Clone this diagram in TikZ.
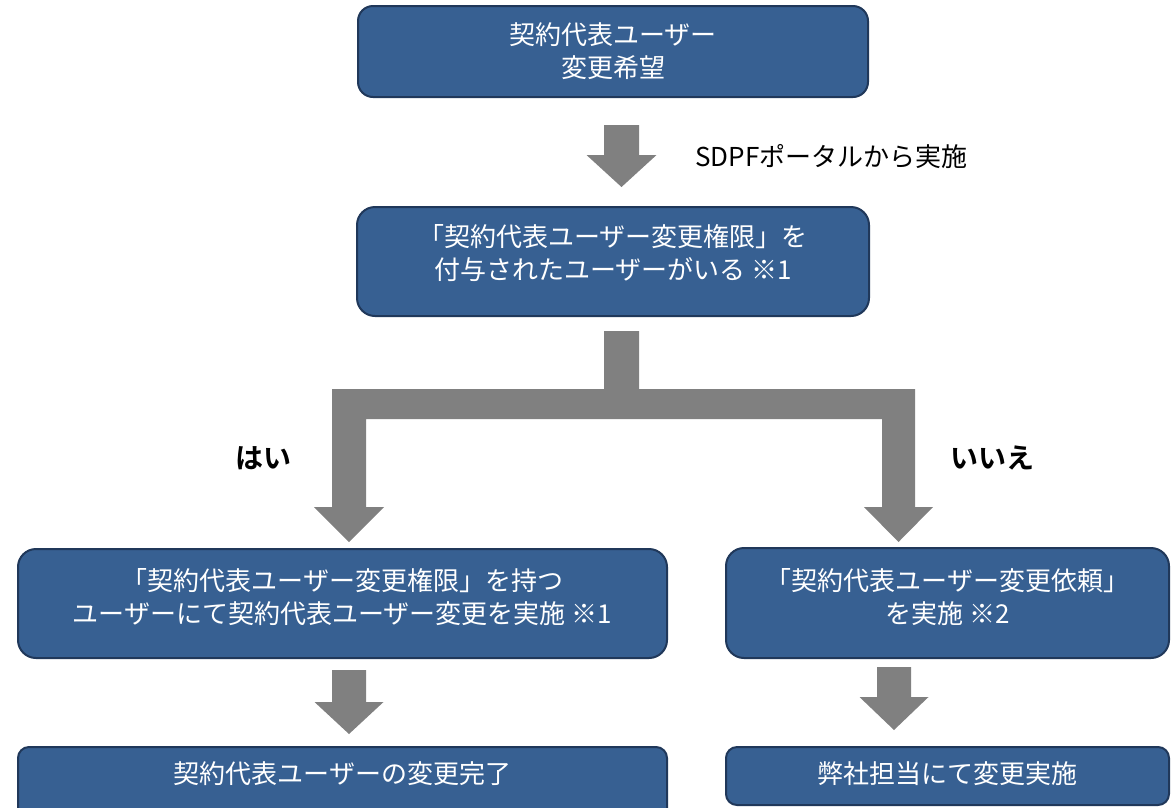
\documentclass[tikz,border=0pt]{standalone}
\usepackage{fontspec}
\setmainfont{Noto Sans CJK JP}
\newfontfamily\jpbold{Noto Sans CJK JP Bold}
\definecolor{boxfill}{RGB}{55,96,146}
\definecolor{boxline}{RGB}{32,56,90}
\definecolor{arrowgray}{RGB}{128,128,128}
\newcommand\blockarr[6]{% center x, top y, head y, tip y, shaft half, head half
  \fill[arrowgray] ({#1-#5},#2) -- ({#1+#5},#2) -- ({#1+#5},#3) -- ({#1+#6},#3)
    -- (#1,#4) -- ({#1-#6},#3) -- ({#1-#5},#3) -- cycle;}
\begin{document}
\begin{tikzpicture}[x=1pt,y=-1pt,
  flowbox/.style={draw=boxline,fill=boxfill,line width=2pt,inner sep=0pt},
  boxtext/.style={text=white,font=\fontsize{26}{33}\selectfont,align=center,inner sep=0pt},
  plaintext/.style={text=black,font=\fontsize{26}{33}\selectfont,inner sep=0pt},
  answer/.style={text=black,font=\jpbold\fontsize{28}{34}\selectfont,inner sep=0pt}]
\useasboundingbox (0,0) rectangle (1174,807);
\fill[white] (0,0) rectangle (1174,807);

% boxes
\node[flowbox,rounded corners=15pt,minimum width=510pt,minimum height=91pt] (top) at (613,51.5) {};
\node[boxtext] (toptext) at (613,51.5) {契約代表ユーザー\\変更希望};

\node[flowbox,rounded corners=18pt,minimum width=512pt,minimum height=109pt] (mid) at (613,261.5) {};
\node[boxtext] (midtext) at (613,253) {「契約代表ユーザー変更権限」を\\付与されたユーザーがいる ※1};

\node[flowbox,rounded corners=18pt,minimum width=649pt,minimum height=109pt] (yes) at (342.5,603.5) {};
\node[boxtext] (yestext) at (342.5,597) {「契約代表ユーザー変更権限」を持つ\\ユーザーにて契約代表ユーザー変更を実施 ※1};

\node[flowbox,rounded corners=18pt,minimum width=443pt,minimum height=110pt] (no) at (947.5,603) {};
\node[boxtext] (notext) at (947.5,597) {「契約代表ユーザー変更依頼」\\を実施 ※2};

\node[flowbox,rounded corners=11pt,minimum width=649pt,minimum height=84pt] (done) at (342.5,789) {};
\node[boxtext] (donetext) at (342.5,774) {契約代表ユーザーの変更完了};

\node[flowbox,rounded corners=11pt,minimum width=443pt,minimum height=58pt] (staff) at (947.5,776) {};
\node[boxtext] (stafftext) at (947.5,774) {弊社担当にて変更実施};

% block arrows
\blockarr{621.5}{125}{155}{187}{17.5}{35}
\node[plaintext,anchor=west] (portal) at (695,157) {SDPFポータルから実施};

\fill[arrowgray] (604,331) -- (639,331) -- (639,389) -- (915,389) -- (915,507)
  -- (933,507) -- (898.5,542) -- (864,507) -- (882,507) -- (882,419)
  -- (366,419) -- (366,507) -- (384,507) -- (349,542) -- (314,507)
  -- (332,507) -- (332,389) -- (604,389) -- cycle;

\node[answer] (hai) at (263,458) {はい};
\node[answer] (iie) at (992,458) {いいえ};

\blockarr{349}{670}{702}{734}{17}{34.5}
\blockarr{894}{667}{697}{730}{17}{34.5}
\end{tikzpicture}
\end{document}
